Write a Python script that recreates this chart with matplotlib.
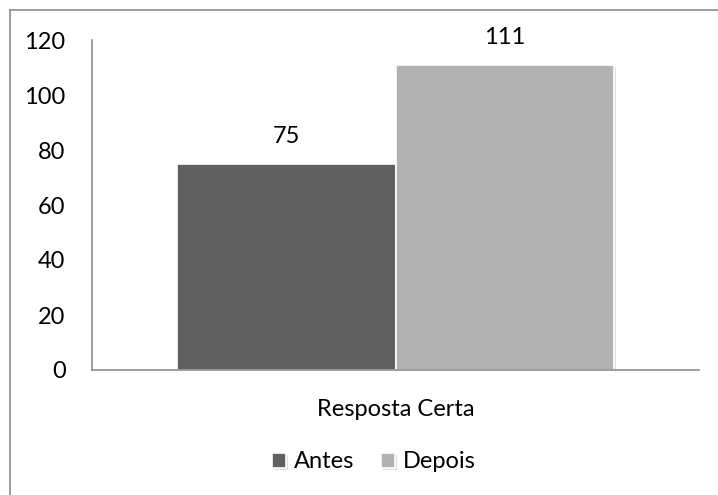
import matplotlib
matplotlib.use("Agg")
import matplotlib.pyplot as plt
import matplotlib.patheffects as pe
from matplotlib.lines import Line2D
import numpy as np

plt.rcParams['font.family'] = ['Lato', 'DejaVu Sans']

# data
category = ["Resposta Certa"]
series = ["Antes", "Depois"]
values = [75, 111]
colors = ["#606060", "#b2b2b2"]
yticks = [0, 20, 40, 60, 80, 100, 120]

W, H = 718, 495
FS = 17
fig = plt.figure(figsize=(W / 100, H / 100), dpi=100)
ax = fig.add_axes([92 / W, 1 - 370 / H, (699 - 92) / W, (370 - 40) / H])

# two bars side by side inside one category
x = np.arange(len(category))
width = 0.36
shadow = [pe.SimplePatchShadow(offset=(1.5, -1.5), shadow_rgbFace="#000000", alpha=0.12), pe.Normal()]
for i, (name, val, col) in enumerate(zip(series, values, colors)):
    pos = x + (i - 0.5) * width
    b = ax.bar(pos, [val], width=width, color=col, edgecolor="white",
               linewidth=1.2, label=name, zorder=3)
    for patch in b:
        patch.set_path_effects(shadow)
    ax.text(pos[0], val + 6, str(val), ha="center", va="bottom",
            fontsize=FS, color="#000000")

ax.set_xlim(-0.5, 0.5)
ax.set_ylim(0, 120)
ax.set_yticks(yticks)
ax.set_yticklabels([str(t) for t in yticks], fontsize=FS)
ax.set_xticks(x)
ax.set_xticklabels(category, fontsize=FS)
ax.tick_params(axis="y", length=0, pad=19)
ax.tick_params(axis="x", length=0, pad=21)

for side in ["top", "right"]:
    ax.spines[side].set_visible(False)
for side in ["left", "bottom"]:
    ax.spines[side].set_color("#8c8c8c")
    ax.spines[side].set_linewidth(1.2)
    ax.spines[side].set_zorder(4)

leg = fig.legend(loc="center", bbox_to_anchor=(374 / W, 1 - 462 / H), ncol=2,
                 frameon=False, fontsize=FS, handlelength=0.6,
                 handleheight=0.6, handletextpad=0.35, columnspacing=1.1)

# outer chart frame (left and top edges)
fig.add_artist(Line2D([10 / W, 10 / W], [0, 1 - 10 / H], transform=fig.transFigure,
                      color="#8c8c8c", linewidth=1.2))
fig.add_artist(Line2D([10 / W, 1], [1 - 10 / H, 1 - 10 / H], transform=fig.transFigure,
                      color="#8c8c8c", linewidth=1.2))

fig.savefig("out.png", dpi=100)
